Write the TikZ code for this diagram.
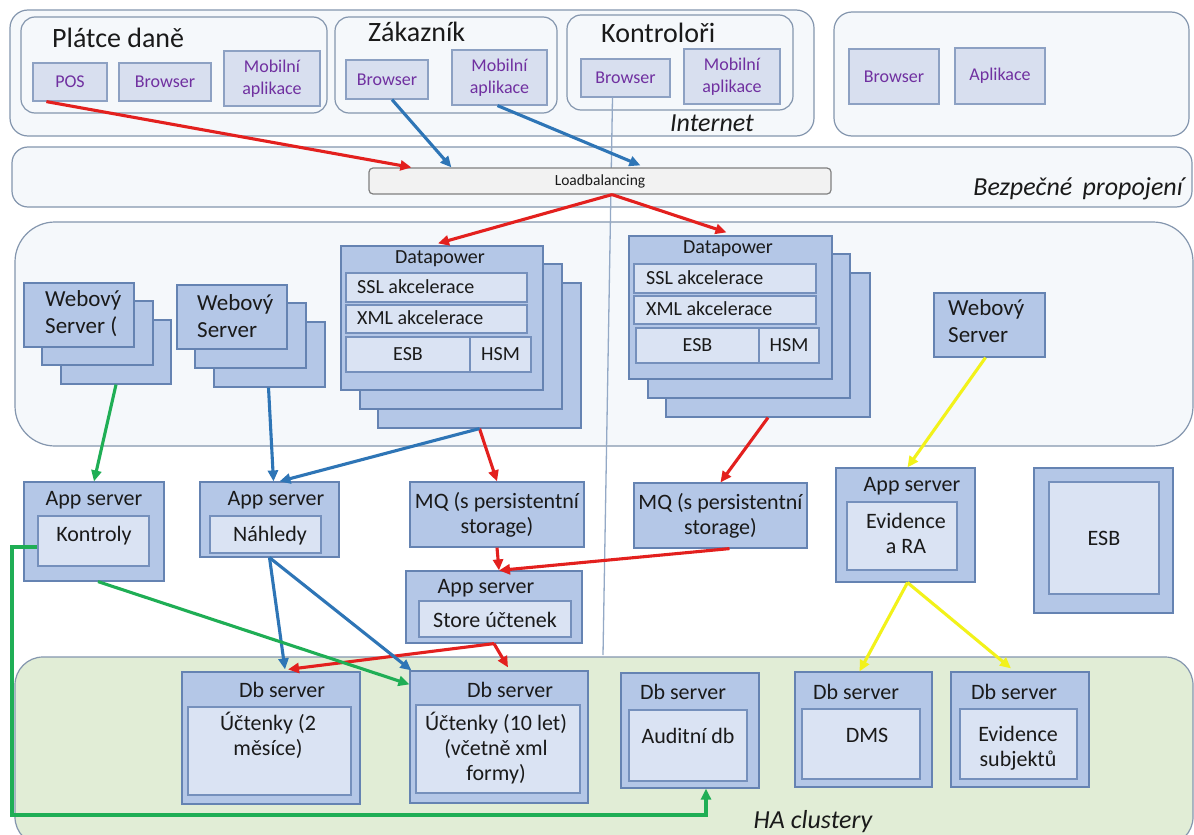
\documentclass[tikz,border=0pt]{standalone}
\usepackage{fontspec}
\setmainfont{Carlito}
\usetikzlibrary{arrows.meta,calc}

\definecolor{ink}{HTML}{1A1A1A}
\definecolor{violet}{HTML}{7030A0}
\definecolor{zonefill}{HTML}{F5F8FB}
\definecolor{zoneline}{HTML}{8496AE}
\definecolor{hafill}{HTML}{E1EDD6}
\definecolor{clifill}{HTML}{D8DFEF}
\definecolor{cliline}{HTML}{8DA1C3}
\definecolor{srvfill}{HTML}{B4C7E7}
\definecolor{srvline}{HTML}{6583B2}
\definecolor{infill}{HTML}{DAE3F3}
\definecolor{inline}{HTML}{7590BC}
\definecolor{lbfill}{HTML}{F2F2F2}
\definecolor{lbline}{HTML}{808080}
\definecolor{ared}{HTML}{E3201E}
\definecolor{ablue}{HTML}{2E75B6}
\definecolor{agreen}{HTML}{1FAE55}
\definecolor{ayellow}{HTML}{F2F21A}
\definecolor{wire}{HTML}{94A9C6}

\tikzset{
  f15/.style={font=\fontsize{15.5}{18}\selectfont},
  f18/.style={font=\fontsize{18}{22}\selectfont},
  f20/.style={font=\fontsize{20}{23}\selectfont},
  f22/.style={font=\fontsize{22}{25}\selectfont},
  f23/.style={font=\fontsize{23}{27}\selectfont},
  f28/.style={font=\fontsize{28}{32}\selectfont},
  zonelabel/.style={font=\fontsize{26}{30}\selectfont\itshape, text=ink, inner sep=0pt},
  txt/.style={text=ink, inner sep=0pt, align=center},
  base/.style={inner sep=0pt, align=center, line width=1.2pt},
  zone/.style={base, draw=zoneline, fill=zonefill},
  hazone/.style={base, draw=zoneline, fill=hafill},
  group/.style={base, draw=zoneline, fill=zonefill, rounded corners=14pt},
  client/.style={base, draw=cliline, fill=clifill, text=violet, f18},
  server/.style={base, draw=srvline, fill=srvfill, text=ink},
  innerbox/.style={base, draw=inline, fill=infill, text=ink},
  lbbox/.style={base, draw=lbline, fill=lbfill, rounded corners=4pt, text=ink, f15},
  arr/.style={line width=3.1pt, -{Triangle[length=11pt,width=10pt]}},
  redarr/.style={arr, draw=ared},
  bluearr/.style={arr, draw=ablue},
  greenarr/.style={arr, draw=agreen},
  yellowarr/.style={arr, draw=ayellow},
}

% box by its corners: name, x1, y1, x2, y2, style, text
\newcommand\bx[7]{%
  \pgfmathsetmacro\bxcx{(#2+#4)/2}%
  \pgfmathsetmacro\bxcy{(#3+#5)/2}%
  \pgfmathsetmacro\bxw{#4-#2}%
  \pgfmathsetmacro\bxh{#5-#3}%
  \node[#6, minimum width=\bxw pt, minimum height=\bxh pt] (#1) at (\bxcx,\bxcy) {#7};}

\begin{document}
\begin{tikzpicture}[x=1pt, y=-1pt]
\useasboundingbox (0,0) rectangle (1194,835);
\fill[white] (0,0) rectangle (1194,835);

% ---- zones ----
\bx{inet}{10}{10}{814}{136}{zone, rounded corners=18pt}{}
\bx{ext}{834}{12}{1189}{136}{zone, rounded corners=18pt}{}
\bx{secure}{12}{147}{1192}{207}{zone, rounded corners=16pt}{}
\bx{appzone}{15}{222}{1193}{446}{zone, rounded corners=40pt}{}
\bx{hazone}{15}{657}{1193}{845}{hazone, rounded corners=28pt}{}

% ---- client groups ----
\bx{gpay}{21}{17}{327}{113}{group}{}
\bx{gcust}{335}{17}{557}{113}{group}{}
\bx{gctrl}{567}{15}{793}{110}{group}{}
\node[txt, f28, anchor=west] (tpay) at (52,38) {Plátce daně};
\node[txt, f28, anchor=west] (tcust) at (368,32) {Zákazník};
\node[txt, f28, anchor=west] (tctrl) at (601,33) {Kontroloři};

\bx{pos}{33}{63}{107}{101}{client}{POS}
\bx{brpay}{119}{63}{211}{101}{client}{Browser}
\bx{mobpay}{224}{51}{320}{106}{client}{Mobilní\\aplikace}
\bx{brcust}{346}{60}{428}{99}{client}{Browser}
\bx{mobcust}{452}{50}{547}{105}{client}{Mobilní\\aplikace}
\bx{brctrl}{581}{59}{670}{97}{client}{Browser}
\bx{mobctrl}{684}{49}{780}{104}{client}{Mobilní\\aplikace}
\bx{brext}{849}{49}{939}{104}{client}{Browser}
\bx{appext}{955}{48}{1045}{104}{client}{Aplikace}
\node[zonelabel] (tinet) at (712,123) {Internet};

% thin wire from the inspectors' browser down to the cluster
\coordinate (wireend) at (603,655);
\draw[wire, line width=1.3pt] ([xshift=-13pt]brctrl.south) -- (wireend);

% ---- secure link ----
\bx{lb}{369}{168}{831}{194}{lbbox}{Loadbalancing}
\node[zonelabel, anchor=east] (tsecure) at (1183,189) {Bezpečné\ \,propojení};

% ---- web servers ----
\bx{wsAc}{61}{320}{171}{384}{server}{}
\bx{wsAb}{42}{301}{153}{365}{server}{}
\bx{wsAa}{24}{283}{134}{347}{server}{}
\node[txt, f23, anchor=west, align=left] (twsA) at (45,314) {Webový\\Server (};

\bx{wsBc}{214}{322}{325}{387}{server}{}
\bx{wsBb}{195}{303}{306}{368}{server}{}
\bx{wsBa}{177}{285}{287}{349}{server}{}
\node[txt, f23, anchor=west, align=left] (twsB) at (197,316) {Webový\\Server};

\bx{wsC}{934}{293}{1045}{357}{server}{}
\node[txt, f23, anchor=west, align=left] (twsC) at (948,321) {Webový\\Server};

% ---- Datapower stacks ----
\bx{dpAc}{378}{283}{581}{428}{server}{}
\bx{dpAb}{360}{264}{562}{409}{server}{}
\bx{dpAa}{341}{246}{543}{390}{server}{}
\node[txt, f20] (tdpA) at (440,259) {Datapower};
\bx{sslA}{346}{273}{527}{302}{innerbox}{}
\bx{xmlA}{346}{305}{527}{333}{innerbox}{}
\bx{esbA}{346}{337}{470}{372}{innerbox, f20}{ESB}
\bx{hsmA}{470}{337}{531}{372}{innerbox, f20}{HSM}
\node[txt, f20, anchor=west] (tsslA) at (357,287) {SSL akcelerace};
\node[txt, f20, anchor=west] (txmlA) at (357,318) {XML akcelerace};

\bx{dpBc}{666}{273}{870}{417}{server}{}
\bx{dpBb}{648}{254}{850}{398}{server}{}
\bx{dpBa}{629}{236}{832}{379}{server}{}
\node[txt, f20] (tdpB) at (728,249) {Datapower};
\bx{sslB}{634}{264}{816}{293}{innerbox}{}
\bx{xmlB}{634}{296}{816}{324}{innerbox}{}
\bx{esbB}{636}{328}{759}{363}{innerbox, f20}{ESB}
\bx{hsmB}{759}{328}{819}{363}{innerbox, f20}{HSM}
\node[txt, f20, anchor=west] (tsslB) at (646,278) {SSL akcelerace};
\node[txt, f20, anchor=west] (txmlB) at (646,309) {XML akcelerace};

% ---- application tier ----
\bx{kon}{24}{482}{164}{581}{server}{}
\bx{konin}{38}{516}{149}{566}{innerbox}{}
\node[txt, f22] (tkon) at (94,500) {App server};
\node[txt, f22] (tkonin) at (94,536) {Kontroly};

\bx{nah}{200}{482}{339}{557}{server}{}
\bx{nahin}{210}{516}{321}{553}{innerbox}{}
\node[txt, f22] (tnah) at (276,500) {App server};
\node[txt, f22] (tnahin) at (270,536) {Náhledy};

\bx{mqA}{410}{482}{584}{547}{server, f22}{MQ (s persistentní\\storage)}
\bx{mqB}{634}{483}{807}{548}{server, f22}{MQ (s persistentní\\storage)}

\bx{store}{406}{571}{582}{643}{server}{}
\bx{storein}{419}{601}{571}{637}{innerbox}{}
\node[txt, f22] (tstore) at (486,588) {App server};
\node[txt, f22] (tstorein) at (495,620) {Store účtenek};

\bx{evid}{836}{468}{975}{582}{server}{}
\bx{evidin}{847}{502}{957}{570}{innerbox}{}
\node[txt, f22] (tevid) at (912,486) {App server};
\node[txt, f22] (tevidin) at (906,533) {Evidence\\a RA};

\bx{esbbus}{1034}{468}{1173}{613}{server}{}
\bx{esbbusin}{1049}{482}{1159}{594}{innerbox, f22}{ESB}

% ---- database tier ----
\bx{dbA}{182}{672}{360}{804}{server}{}
\bx{dbAin}{188}{707}{351}{795}{innerbox}{}
\node[txt, f22] (tdbA) at (282,690) {Db server};
\node[txt, f22] (tdbAin) at (268,735) {Účtenky (2\\měsíce)};

\bx{dbB}{410}{671}{588}{803}{server}{}
\bx{dbBin}{416}{705}{580}{793}{innerbox}{}
\node[txt, f22] (tdbB) at (510,690) {Db server};
\node[txt, f22] (tdbBin) at (496,748) {Účtenky (10 let)\\(včetně xml\\formy)};

\bx{aud}{621}{673}{759}{788}{server}{}
\bx{audin}{629}{710}{747}{781}{innerbox}{}
\node[txt, f22] (taud) at (683,692) {Db server};
\node[txt, f22] (taudin) at (688,736) {Auditní db};

\bx{dms}{795}{672}{932}{787}{server}{}
\bx{dmsin}{802}{709}{920}{779}{innerbox}{}
\node[txt, f22] (tdms) at (856,692) {Db server};
\node[txt, f22] (tdmsin) at (867,735) {DMS};

\bx{subj}{951}{672}{1089}{787}{server}{}
\bx{subjin}{960}{709}{1077}{779}{innerbox}{}
\node[txt, f22] (tsubj) at (1014,692) {Db server};
\node[txt, f22] (tsubjin) at (1018,748) {Evidence\\subjektů};

\node[zonelabel] (tha) at (813,822) {HA clustery};

% ---- red flow: receipts ----
\draw[redarr] ([xshift=14pt]pos.south west) -- ([xshift=43pt]lb.north west);
\draw[redarr] ([xshift=12pt]lb.south) -- ([xshift=-4pt,yshift=2pt]dpAa.north);
\draw[redarr] ([xshift=12pt]lb.south) -- ([xshift=-4pt,yshift=3pt]dpBa.north);
\draw[redarr] (dpAc.south) -- (mqA.north);
\draw[redarr] (dpBc.south) -- (mqB.north);
\draw[redarr] (mqA.south) -- ([xshift=5pt]store.north);
\draw[redarr] ([xshift=9pt]mqB.south) -- ([xshift=5pt]store.north);
\draw[redarr] (store.south) -- ([xshift=17pt,yshift=2pt]dbA.north);
\draw[redarr] (store.south) -- ([xshift=9pt,yshift=3pt]dbB.north);

% ---- blue flow: previews ----
\draw[bluearr] ([xshift=5pt]brcust.south) -- ([xshift=83pt]lb.north west);
\draw[bluearr] ([xshift=-2pt]mobcust.south) -- ([xshift=272pt,yshift=2pt]lb.north west);
\draw[bluearr] ([xshift=-1pt]wsBc.south) -- ([xshift=4pt]nah.north);
\draw[bluearr] (dpAc.south) -- ([xshift=10pt]nah.north);
\draw[bluearr] (nah.south) -- ([xshift=14pt,yshift=2pt]dbA.north);
\draw[bluearr] (nah.south) -- ([xshift=2pt]dbB.north west);

% ---- green flow: inspections ----
\draw[greenarr] (wsAc.south) -- (kon.north);
\draw[greenarr] ([xshift=4pt]kon.south) -- ([yshift=-14pt]dbB.north west);
\coordinate (gcorner) at (12,815);
\draw[greenarr] ([yshift=-6pt]konin.west) -| (gcorner) -| ([xshift=16pt]aud.south);

% ---- yellow flow: registry ----
\draw[yellowarr] ([xshift=-4pt]wsC.south) -- ([xshift=2pt]evid.north);
\draw[yellowarr] ([xshift=2pt]evid.south) -- ([xshift=-4pt]dms.north);
\draw[yellowarr] ([xshift=2pt]evid.south) -- ([xshift=-9pt,yshift=3pt]subj.north);
\end{tikzpicture}
\end{document}
